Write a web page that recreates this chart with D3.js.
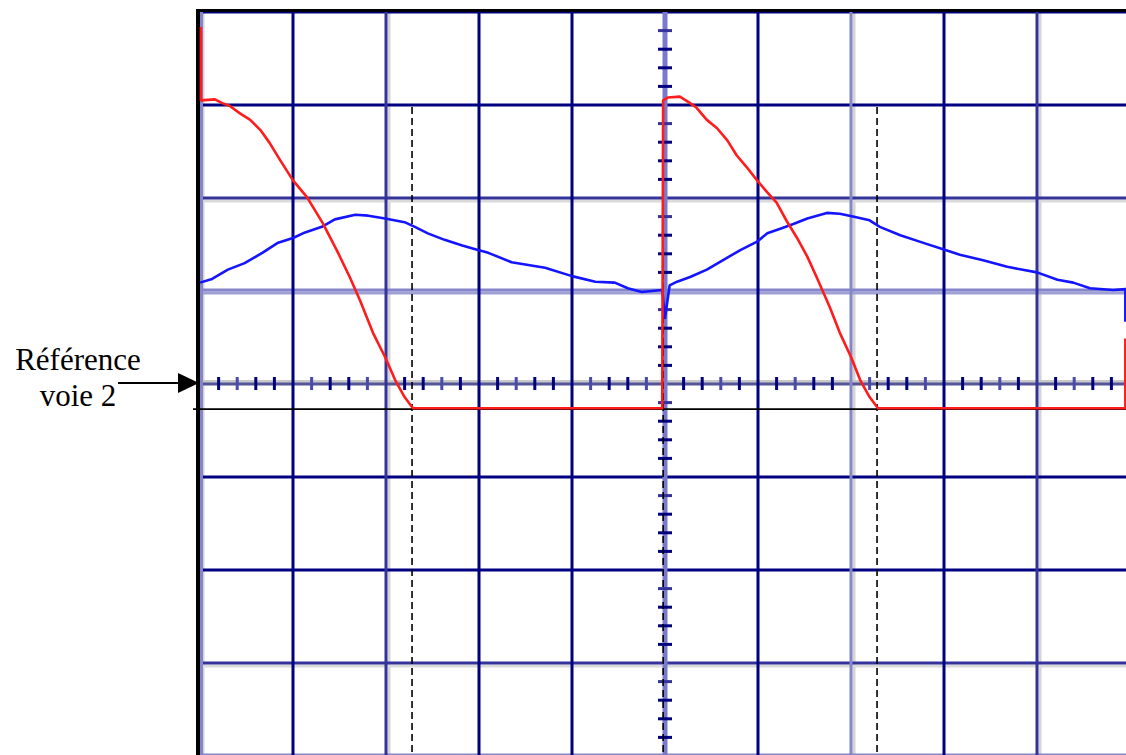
<!DOCTYPE html>
<html>
<head>
  <meta charset="UTF-8">
  <title>oscillogramme</title>
  <script src="https://d3js.org/d3.v7.min.js"></script>
  <style>
    body { margin: 0; background: white; }
    svg { display: block; background: white; }
    .lbl { font-family: "Liberation Serif", "Times New Roman", serif; font-size: 31px; fill: black; }
  </style>
</head>
<body>
<svg width="1126" height="755"></svg>
<script>
// values read in screen divisions (time: div from left edge, amplitude: div from centre line)
var redT = [0.01, 0.01, 0.16, 0.24, 0.32, 0.43, 0.54, 0.65, 0.75, 0.86, 1.00, 1.15, 1.32, 1.47, 1.61, 1.72, 1.86, 1.99, 2.10, 2.20, 2.29,
            4.97, 4.98, 5.03, 5.16, 5.27, 5.34, 5.45, 5.56, 5.67, 5.77, 5.88, 5.99, 6.10, 6.20, 6.31, 6.42, 6.53, 6.63, 6.77, 6.88, 7.00, 7.10, 7.20, 7.29,
            9.95, 9.95];
var redV = [3.84, 3.05, 3.06, 3.02, 2.99, 2.91, 2.84, 2.73, 2.59, 2.41, 2.19, 2.01, 1.73, 1.44, 1.15, 0.90, 0.55, 0.29, 0.04, -0.14, -0.26,
            -0.26, 3.05, 3.08, 3.09, 3.02, 2.97, 2.84, 2.75, 2.62, 2.46, 2.33, 2.19, 2.06, 1.95, 1.75, 1.57, 1.37, 1.15, 0.83, 0.55, 0.29, 0.04, -0.14, -0.26,
            -0.26, 0.49];

var blueT = [0.00, 0.13, 0.30, 0.48, 0.67, 0.84, 1.00, 1.13, 1.31, 1.45, 1.67, 1.81, 1.99, 2.20, 2.31, 2.45, 2.63, 2.82, 2.96, 3.10, 3.35, 3.53, 3.71, 4.00, 4.25, 4.46, 4.60, 4.75, 4.97,
             5.00, 5.05, 5.13, 5.27, 5.45, 5.62, 5.81, 5.99, 6.10, 6.27, 6.38, 6.53, 6.74, 6.88, 7.02, 7.20, 7.31, 7.53, 7.77, 7.99, 8.17, 8.42, 8.68, 9.00, 9.22, 9.39, 9.57, 9.82, 9.95, 9.95];
var blueV = [1.09, 1.13, 1.23, 1.30, 1.41, 1.52, 1.57, 1.63, 1.69, 1.77, 1.82, 1.81, 1.78, 1.74, 1.69, 1.62, 1.55, 1.49, 1.45, 1.41, 1.31, 1.28, 1.25, 1.16, 1.10, 1.09, 1.03, 0.99, 1.01,
             0.71, 1.06, 1.10, 1.15, 1.23, 1.33, 1.44, 1.53, 1.62, 1.68, 1.72, 1.78, 1.84, 1.83, 1.80, 1.76, 1.69, 1.60, 1.52, 1.45, 1.39, 1.33, 1.26, 1.20, 1.12, 1.09, 1.03, 1.01, 1.02, 0.67];

var gridT = [0, 1, 2, 3, 4, 5, 6, 7, 8, 9];
var gridV = [4, 3, 2, 1, 0, -1, -2, -3, -4];
var cursorT = [2.28, 7.28];
var centreT = 4.98;
var lowLevel = -0.27;
var labelLines = ["Référence", "voie 2"];

var svg = d3.select("svg");
var x = d3.scaleLinear().domain([0, 10]).range([200, 1130]);
var y = d3.scaleLinear().domain([4, -4]).range([12, 756]);

// grid line looks (dark navy / medium / pale)
var vLook = ["pale", "dark", "mid", "dark", "dark", "centre", "dark", "pale", "dark", "mid"];
var hLook = ["dark", "dark", "mid", "pale", "ref", "dark", "dark", "mid", "pale"];
var col = {dark: "#000080", mid: "#333399", pale: "#8585cc", centre: "#7a7acc", ref: "#55559a"};

var g = svg.append("g");

// gray shadows first
gridT.forEach(function(t, i) {
  if (vLook[i] == "mid" || vLook[i] == "pale")
    g.append("line").attr("x1", x(t) + 3).attr("x2", x(t) + 3).attr("y1", y(4)).attr("y2", y(-4))
      .attr("stroke", "#d4d4d4").attr("stroke-width", 3);
});
gridV.forEach(function(v, i) {
  if (hLook[i] == "mid")
    g.append("line").attr("x1", x(0)).attr("x2", 1126).attr("y1", y(v) + 3).attr("y2", y(v) + 3)
      .attr("stroke", "#dadada").attr("stroke-width", 3);
  if (hLook[i] == "pale")
    g.append("line").attr("x1", x(0)).attr("x2", 1126).attr("y1", y(v) + 2).attr("y2", y(v) + 2)
      .attr("stroke", "#a0a0d4").attr("stroke-width", 3);
  if (hLook[i] == "ref")
    g.append("line").attr("x1", x(0)).attr("x2", 1126).attr("y1", y(v) - 2).attr("y2", y(v) - 2)
      .attr("stroke", "#c8c8c8").attr("stroke-width", 4);
});

gridV.forEach(function(v, i) {
  g.append("line").attr("x1", x(0)).attr("x2", 1126).attr("y1", y(v) + (hLook[i] == "pale" ? -1 : 0)).attr("y2", y(v) + (hLook[i] == "pale" ? -1 : 0))
    .attr("stroke", col[hLook[i]]).attr("stroke-width", 3);
});
gridT.forEach(function(t, i) {
  g.append("line").attr("x1", x(t) + (i == 0 ? 1.5 : 0)).attr("x2", x(t) + (i == 0 ? 1.5 : 0)).attr("y1", y(4)).attr("y2", y(-4))
    .attr("stroke", col[vLook[i]]).attr("stroke-width", i == 5 ? 5 : 3);
});

// graduation ticks, 5 per division
var sub = d3.range(0, 50).map(function(k) { return k / 5; }).filter(function(t) { return t % 1 != 0; });
g.selectAll(".htick").data(sub).enter().append("line")
  .attr("x1", function(d) { return x(d); }).attr("x2", function(d) { return x(d); })
  .attr("y1", y(0) - 7).attr("y2", y(0) + 6)
  .attr("stroke", function(d, i) { return i % 3 == 1 ? "#4a4aae" : "#000080"; }).attr("stroke-width", 3);
var subV = d3.range(-20, 20).map(function(k) { return k / 5; }).filter(function(v) { return Math.abs(v % 1) > 0.01; });
g.selectAll(".vtick").data(subV).enter().append("line")
  .attr("x1", x(5) - 7).attr("x2", x(5) + 7)
  .attr("y1", function(d) { return y(d); }).attr("y2", function(d) { return y(d); })
  .attr("stroke", function(d, i) { return i % 4 == 3 ? "#333399" : "#000080"; }).attr("stroke-width", 3);

// frame
svg.append("line").attr("x1", 196).attr("x2", 1126).attr("y1", 10.5).attr("y2", 10.5).attr("stroke", "black").attr("stroke-width", 3);
svg.append("line").attr("x1", 198).attr("x2", 198).attr("y1", 9).attr("y2", 755).attr("stroke", "black").attr("stroke-width", 4);

// cursors
cursorT.concat([centreT]).forEach(function(t) {
  svg.append("line").attr("x1", x(t)).attr("x2", x(t)).attr("y1", y(3) + 2).attr("y2", 755)
    .attr("stroke", "black").attr("stroke-width", 1.6).attr("stroke-dasharray", "7,4");
});
svg.append("line").attr("x1", 193).attr("x2", 1126).attr("y1", y(lowLevel)).attr("y2", y(lowLevel))
  .attr("stroke", "black").attr("stroke-width", 1.6);

// traces
var line = d3.line().x(function(d) { return x(d[0]); }).y(function(d) { return y(d[1]); });
svg.append("path").datum(d3.zip(blueT, blueV)).attr("d", line)
  .attr("fill", "none").attr("stroke", "#1414ff").attr("stroke-width", 2.6).attr("stroke-linejoin", "round");
svg.append("path").datum(d3.zip(redT, redV)).attr("d", line)
  .attr("fill", "none").attr("stroke", "#ff1c1c").attr("stroke-width", 2.6).attr("stroke-linejoin", "round");

// label and arrow
svg.append("text").attr("class", "lbl").attr("x", 78).attr("y", 370).attr("text-anchor", "middle").text(labelLines[0]);
svg.append("text").attr("class", "lbl").attr("x", 78).attr("y", 406).attr("text-anchor", "middle").text(labelLines[1]);
svg.append("line").attr("x1", 118).attr("x2", 180).attr("y1", y(0) - 1).attr("y2", y(0) - 1).attr("stroke", "black").attr("stroke-width", 2);
svg.append("path").attr("d", "M178," + (y(0) - 11) + "L199," + (y(0) - 1) + "L178," + (y(0) + 9) + "Z").attr("fill", "black");
</script>
</body>
</html>
